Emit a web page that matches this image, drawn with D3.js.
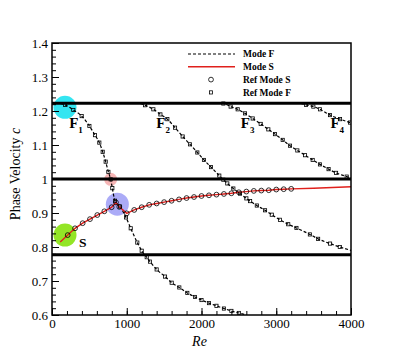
<!DOCTYPE html>
<html>
<head>
<meta charset="utf-8">
<script src="https://cdn.jsdelivr.net/npm/d3@7"></script>
<style>
  html, body { margin: 0; padding: 0; background: #fff; }
  svg text { font-family: "Liberation Serif", "Times New Roman", serif; }
</style>
</head>
<body>
<svg id="chart" width="399" height="355"></svg>
<script>
// ── DATA ────────────────────────────────────────────────────────────────
const xTicks = [0, 1000, 2000, 3000, 4000];
const yTicks = [0.6, 0.7, 0.8, 0.9, 1.0, 1.1, 1.2, 1.3, 1.4];
const refLines = [1.2225, 1.0, 0.7775];

// Mode F branches (Re, c)
const modeF1 = [[110,1.222],[174,1.218],[285,1.203],[397,1.185],[500,1.156],[575,1.129],[633,1.107],[678,1.080],[718,1.051],[754,1.021],[785,0.999],[807,0.973],[843,0.936],[910,0.919],[990,0.887],[1053,0.855],[1141,0.813],[1200,0.789],[1267,0.770],[1311,0.757],[1400,0.734],[1512,0.713],[1601,0.695],[1703,0.681],[1810,0.665],[1913,0.653],[2000,0.644],[2100,0.635],[2200,0.627],[2300,0.619],[2400,0.612],[2500,0.606],[2600,0.600]];
const modeF2 = [[1180,1.2225],[1244,1.217],[1356,1.205],[1450,1.190],[1543,1.176],[1646,1.151],[1748,1.125],[1846,1.102],[1944,1.078],[2033,1.056],[2127,1.035],[2238,1.010],[2292,0.998],[2345,0.987],[2426,0.972],[2515,0.957],[2600,0.943],[2650,0.935],[2740,0.922],[2850,0.908],[2940,0.895],[3050,0.880],[3160,0.867],[3270,0.856],[3450,0.837],[3560,0.824],[3720,0.810],[3850,0.800],[4000,0.790]];
const modeF3 = [[2200,1.2225],[2292,1.222],[2390,1.213],[2484,1.205],[2582,1.193],[2685,1.178],[2792,1.162],[2894,1.146],[2983,1.132],[3086,1.115],[3184,1.098],[3282,1.084],[3385,1.070],[3487,1.056],[3585,1.043],[3700,1.029],[3800,1.018],[3942,1.007],[4000,1.002]];
const modeF4 = [[3330,1.2225],[3398,1.218],[3496,1.213],[3585,1.205],[3719,1.188],[3853,1.176],[3987,1.166],[4000,1.165]];

// Mode S branch (Re, c)
const modeS = [[110,0.815],[210,0.835],[308,0.855],[410,0.870],[508,0.882],[606,0.894],[700,0.905],[798,0.917],[856,0.931],[900,0.918],[1000,0.899],[1100,0.909],[1200,0.917],[1300,0.924],[1400,0.928],[1500,0.932],[1600,0.936],[1700,0.940],[1800,0.944],[1900,0.947],[2000,0.950],[2100,0.952],[2200,0.954],[2300,0.956],[2400,0.958],[2500,0.961],[2600,0.963],[2700,0.965],[2800,0.966],[2900,0.967],[3000,0.969],[3100,0.970],[3200,0.971],[3500,0.973],[4000,0.977]];

// reference points
const refS = modeS.filter(d => d[0] >= 200 && d[0] <= 3200);
const refF = [modeF1, modeF2, modeF3, modeF4].flatMap(b => b.slice(1, -1));

// highlight markers (Re, c) and labels
const highlights = [
  { re: 174, c: 1.211, color: '#10e0ee', size: 'big' },
  { re: 785, c: 0.999, color: '#f4a4a4', size: 'small' },
  { re: 874, c: 0.926, color: '#9c9cf6', size: 'big' },
  { re: 174, c: 0.835, color: '#80e000', size: 'big' }
];
const branchLabels = [
  { re: 230, c: 1.15, main: 'F', sub: '1' },
  { re: 1395, c: 1.15, main: 'F', sub: '2' },
  { re: 2525, c: 1.15, main: 'F', sub: '3' },
  { re: 3725, c: 1.15, main: 'F', sub: '4' },
  { re: 360, c: 0.8, main: 'S', sub: '' }
];

// ── LAYOUT ──────────────────────────────────────────────────────────────
const svg = d3.select('#chart');
const L = 52, R = 351, T = 43, B = 315;

const x = d3.scaleLinear().domain([0, 4000]).range([L, R]);
const y = d3.scaleLinear().domain([0.6, 1.4]).range([B, T]);

svg.append('defs').append('clipPath').attr('id', 'plot-clip')
  .append('rect').attr('x', L).attr('y', T).attr('width', R - L).attr('height', B - T);

const plot = svg.append('g').attr('clip-path', 'url(#plot-clip)');

// highlight discs (under the curves)
plot.selectAll('circle.hl')
  .data(highlights)
  .join('circle')
  .attr('class', 'hl')
  .attr('cx', d => x(d.re))
  .attr('cy', d => y(d.c))
  .attr('r', d => d.size === 'big' ? 11.5 : 6.5)
  .attr('fill', d => d.color)
  .attr('opacity', d => d.size === 'big' ? 0.85 : 0.8);

// thick horizontal reference lines
plot.selectAll('line.ref')
  .data(refLines)
  .join('line')
  .attr('class', 'ref')
  .attr('x1', L).attr('x2', R)
  .attr('y1', d => y(d)).attr('y2', d => y(d))
  .attr('stroke', '#000')
  .attr('stroke-width', 3);

const line = d3.line().x(d => x(d[0])).y(d => y(d[1]));
const smooth = d3.line().x(d => x(d[0])).y(d => y(d[1])).curve(d3.curveMonotoneX);

// Mode F dashed branches
plot.selectAll('path.modeF')
  .data([modeF1, modeF2, modeF3, modeF4])
  .join('path')
  .attr('class', 'modeF')
  .attr('d', smooth)
  .attr('fill', 'none')
  .attr('stroke', '#000')
  .attr('stroke-width', 1.2)
  .attr('stroke-dasharray', '3,2');

// Mode S red solid
plot.append('path')
  .datum(modeS)
  .attr('d', line)
  .attr('fill', 'none')
  .attr('stroke', '#e0201c')
  .attr('stroke-width', 1.4);

// Ref Mode F squares
plot.selectAll('rect.refF')
  .data(refF)
  .join('rect')
  .attr('class', 'refF')
  .attr('x', d => x(d[0]) - 1.6)
  .attr('y', d => y(d[1]) - 1.6)
  .attr('width', 3.2).attr('height', 3.2)
  .attr('fill', 'none')
  .attr('stroke', '#000')
  .attr('stroke-width', 0.8);

// Ref Mode S circles
plot.selectAll('circle.refS')
  .data(refS)
  .join('circle')
  .attr('class', 'refS')
  .attr('cx', d => x(d[0]))
  .attr('cy', d => y(d[1]))
  .attr('r', 2.4)
  .attr('fill', 'none')
  .attr('stroke', '#000')
  .attr('stroke-width', 0.8);

// branch labels
branchLabels.forEach(b => {
  const t = svg.append('text')
    .attr('x', x(b.re))
    .attr('y', y(b.c))
    .attr('font-weight', 'bold')
    .attr('font-size', b.main === 'S' ? 13.5 : 15)
    .attr('fill', '#000')
    .text(b.main);
  if (b.sub) {
    t.append('tspan').attr('font-size', 9).attr('dy', 4.5).text(b.sub);
  }
});

// ── AXES ────────────────────────────────────────────────────────────────
const fmt = d => String(+d.toFixed(1));

const yMinor = d3.range(0.6, 1.4001, 0.02);
const xMinor = d3.range(0, 4001, 200);

svg.append('g')
  .attr('transform', `translate(${L},0)`)
  .call(d3.axisLeft(y).tickValues(yMinor).tickSizeInner(-4).tickSizeOuter(0).tickFormat(''))
  .call(g => g.select('.domain').remove());

svg.append('g')
  .attr('transform', `translate(0,${B})`)
  .call(d3.axisBottom(x).tickValues(xMinor).tickSizeInner(-4).tickSizeOuter(0).tickFormat(''))
  .call(g => g.select('.domain').remove());

const yAxis = svg.append('g')
  .attr('transform', `translate(${L},0)`)
  .call(d3.axisLeft(y).tickValues(yTicks).tickSizeInner(-7).tickSizeOuter(0).tickPadding(4).tickFormat(fmt))
  .call(g => g.select('.domain').remove());

const xAxis = svg.append('g')
  .attr('transform', `translate(0,${B})`)
  .call(d3.axisBottom(x).tickValues(xTicks).tickSizeInner(-7).tickSizeOuter(0).tickPadding(4).tickFormat(d3.format('d')))
  .call(g => g.select('.domain').remove());

svg.selectAll('.tick line').attr('stroke', '#000').attr('stroke-width', 1);
[yAxis, xAxis].forEach(g => g.selectAll('text')
  .attr('font-family', '"Liberation Serif", serif')
  .attr('font-size', 13)
  .attr('fill', '#000'));

// frame
svg.append('rect')
  .attr('x', L).attr('y', T)
  .attr('width', R - L).attr('height', B - T)
  .attr('fill', 'none')
  .attr('stroke', '#000')
  .attr('stroke-width', 1.5);

// axis titles
svg.append('text')
  .attr('x', (L + R) / 2 - 2)
  .attr('y', 346)
  .attr('text-anchor', 'middle')
  .attr('font-size', 14)
  .attr('font-style', 'italic')
  .text('Re');

const yt = svg.append('text')
  .attr('transform', 'translate(20,174) rotate(-90)')
  .attr('text-anchor', 'middle')
  .attr('font-size', 14);
yt.append('tspan').text('Phase Velocity ');
yt.append('tspan').attr('font-style', 'italic').text('c');

// ── LEGEND ──────────────────────────────────────────────────────────────
const legendItems = [
  { label: 'Mode F', kind: 'dash' },
  { label: 'Mode S', kind: 'red' },
  { label: 'Ref Mode S', kind: 'circle' },
  { label: 'Ref Mode F', kind: 'square' }
];
const lg = svg.append('g');
legendItems.forEach((it, i) => {
  const ly = 54 + i * 12.8;
  if (it.kind === 'dash') {
    lg.append('line').attr('x1', 188).attr('x2', 235).attr('y1', ly).attr('y2', ly)
      .attr('stroke', '#000').attr('stroke-width', 1.2).attr('stroke-dasharray', '3,2');
  } else if (it.kind === 'red') {
    lg.append('line').attr('x1', 188).attr('x2', 235).attr('y1', ly).attr('y2', ly)
      .attr('stroke', '#e0201c').attr('stroke-width', 1.4);
  } else if (it.kind === 'circle') {
    lg.append('circle').attr('cx', 211).attr('cy', ly).attr('r', 2.4)
      .attr('fill', 'none').attr('stroke', '#000').attr('stroke-width', 0.8);
  } else {
    lg.append('rect').attr('x', 209.4).attr('y', ly - 1.6).attr('width', 3.2).attr('height', 3.2)
      .attr('fill', 'none').attr('stroke', '#000').attr('stroke-width', 0.8);
  }
  lg.append('text')
    .attr('x', 243).attr('y', ly + 3.2)
    .attr('font-size', 9.5)
    .attr('font-weight', 'bold')
    .text(it.label);
});
</script>
</body>
</html>
